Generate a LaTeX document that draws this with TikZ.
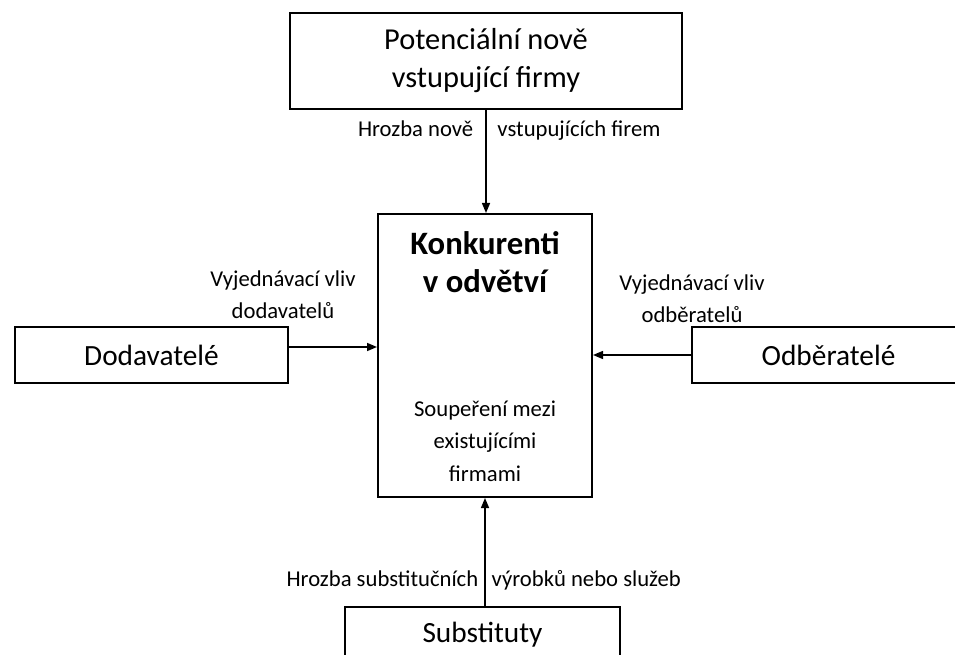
\documentclass[tikz,border=0pt]{standalone}
\usepackage{fontspec}
\setmainfont{Carlito}
\usetikzlibrary{arrows.meta}

\begin{document}
\begin{tikzpicture}[x=0.75pt,y=-0.75pt,>={Triangle[length=7.5pt,width=6pt]},
  box/.style={draw,line width=1.5pt,inner sep=0pt,align=center,font=\fontsize{22}{28.5}\selectfont},
  lbl/.style={inner sep=0pt,align=center,font=\fontsize{17}{24}\selectfont},
  plbl/.style={lbl,text height=12pt,text depth=4pt},
  arr/.style={->,line width=1.1pt}]
\useasboundingbox (0,0) rectangle (955,655);
% boxes
\node[box,font=\fontsize{22.8}{28.5}\selectfont,minimum width=294pt,minimum height=72pt] (nove) at (486,61) {Potenciální nově\\vstupující firmy};
\node[box,minimum width=160.5pt,minimum height=212.25pt] (konk) at (485,355.5) {};
\node[box,minimum width=204.75pt,minimum height=42pt] (dod) at (151.5,355) {Dodavatelé};
\node[box,minimum width=204.75pt,minimum height=42pt] (odb) at (828.5,355) {Odběratelé};
\node[box,minimum width=206.25pt,minimum height=42pt] (sub) at (482.5,635) {Substituty};
% text in the middle box
\node[lbl,font=\bfseries\fontsize{24.5}{28.5}\selectfont] (konktxt) at (485,262) {Konkurenti\\v odvětví};
\node[lbl,font=\fontsize{17}{24.5}\selectfont] (soup) at (485,441) {Soupeření mezi\\existujícími\\firmami};
% labels at the sides
\node[lbl] (vlivdod) at (283,295) {Vyjednávací vliv\\dodavatelů};
\node[lbl] (vlivodb) at (692,299) {Vyjednávací vliv\\odběratelů};
% arrows
\draw[arr] (nove.south) -- node[plbl,pos=0.21,left=9pt] (hrozA) {Hrozba nově} node[plbl,pos=0.21,right=8pt] (hrozB) {vstupujících firem} (nove.south |- konk.north);
\draw[arr] (konk.south |- sub.north) -- node[plbl,pos=0.23,left=4.5pt] (subA) {Hrozba substitučních} node[plbl,pos=0.23,right=4.5pt] (subB) {výrobků nebo služeb} (konk.south);
\draw[arr] ([yshift=6pt]dod.east) -- ([yshift=6pt]dod.east -| konk.west);
\draw[arr] (odb.west) -- (odb.west -| konk.east);
\end{tikzpicture}
\end{document}
